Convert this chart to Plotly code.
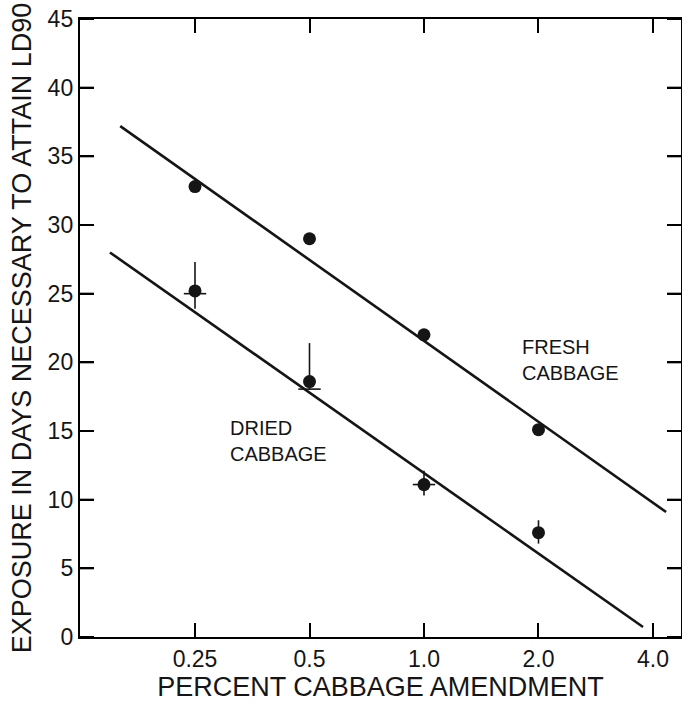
import plotly.graph_objects as go

# ---- data ----
amend = [0.25, 0.5, 1.0, 2.0]
fresh_days = [32.8, 29.0, 22.0, 15.1]
dried_days = [25.2, 18.6, 11.1, 7.6]
dried_err_plus = [2.1, 2.8, 1.0, 0.9]
dried_err_minus = [1.3, 0.6, 0.8, 0.8]
dried_bar_mark = [25.0, 18.05, 11.1]
dried_bar_x = [0.25, 0.5, 1.0]

fresh_line_x = [0.159, 4.33]
fresh_line_y = [37.2, 9.1]
dried_line_x = [0.1494, 3.766]
dried_line_y = [28.0, 0.73]

x_ticks = [0.25, 0.5, 1.0, 2.0, 4.0]
x_ticklabels = ["0.25", "0.5", "1.0", "2.0", "4.0"]
y_ticks = list(range(0, 46, 5))
x_range_log = [-0.9044, 0.6757]
y_range = [0, 45]

FONT = "Liberation Sans, Arial, sans-serif"
INK = "#151515"

W, H = 682, 703
M = dict(l=80, r=1, t=19, b=66)
PLOT_W = W - M["l"] - M["r"]
TICK_LEN = 14

fig = go.Figure()

fig.add_trace(go.Scatter(x=fresh_line_x, y=fresh_line_y, mode="lines",
                         line=dict(color=INK, width=2.6), showlegend=False,
                         hoverinfo="skip"))
fig.add_trace(go.Scatter(x=dried_line_x, y=dried_line_y, mode="lines",
                         line=dict(color=INK, width=2.6), showlegend=False,
                         hoverinfo="skip"))

fig.add_trace(go.Scatter(x=amend, y=fresh_days, mode="markers",
                         marker=dict(color=INK, size=13), showlegend=False,
                         name="Fresh cabbage"))
fig.add_trace(go.Scatter(x=amend, y=dried_days, mode="markers",
                         marker=dict(color=INK, size=13), showlegend=False,
                         name="Dried cabbage",
                         error_y=dict(type="data", symmetric=False,
                                      array=dried_err_plus,
                                      arrayminus=dried_err_minus,
                                      color=INK, thickness=1.6, width=0)))
fig.add_trace(go.Scatter(x=dried_bar_x, y=dried_bar_mark, mode="markers",
                         marker=dict(symbol="line-ew", size=16,
                                     line=dict(color=INK, width=1.6)),
                         showlegend=False, hoverinfo="skip"))

fig.add_annotation(x=0.246, y=0.317, xref="paper", yref="paper",
                   text="DRIED<br>CABBAGE", showarrow=False, align="left",
                   xanchor="left", yanchor="middle",
                   font=dict(family=FONT, size=20, color=INK))
fig.add_annotation(x=0.732, y=0.448, xref="paper", yref="paper",
                   text="FRESH<br>CABBAGE", showarrow=False, align="left",
                   xanchor="left", yanchor="middle",
                   font=dict(family=FONT, size=20, color=INK))

# extra inward y tick marks (left and right) through the y scale
ty = TICK_LEN / PLOT_W
for v in y_ticks:
    for x0, x1 in ((0, ty), (1, 1 - ty)):
        fig.add_shape(type="line", xref="paper", yref="y", x0=x0, x1=x1,
                      y0=v, y1=v, line=dict(color="black", width=2))

tick_common = dict(ticks="inside", ticklen=TICK_LEN, tickwidth=2,
                   tickcolor="black", showgrid=False, zeroline=False,
                   automargin=False, mirror="allticks", tickmode="array",
                   showline=True, linecolor="black", linewidth=2.4,
                   tickfont=dict(family=FONT, size=23, color=INK))

fig.update_layout(
    xaxis=dict(type="log", range=x_range_log, tickvals=x_ticks,
               ticktext=x_ticklabels,
               title=dict(text="PERCENT CABBAGE AMENDMENT", standoff=6,
                          font=dict(family=FONT, size=27, color=INK)),
               **tick_common),
    yaxis=dict(range=y_range, tickvals=y_ticks,
               title=dict(text="EXPOSURE IN DAYS NECESSARY TO ATTAIN LD90",
                          standoff=8,
                          font=dict(family=FONT, size=27, color=INK)),
               **tick_common),
    width=W, height=H, autosize=False,
    margin=M,
    paper_bgcolor="white", plot_bgcolor="white",
    font=dict(family=FONT, color=INK),
)

fig.write_html("out.html")
